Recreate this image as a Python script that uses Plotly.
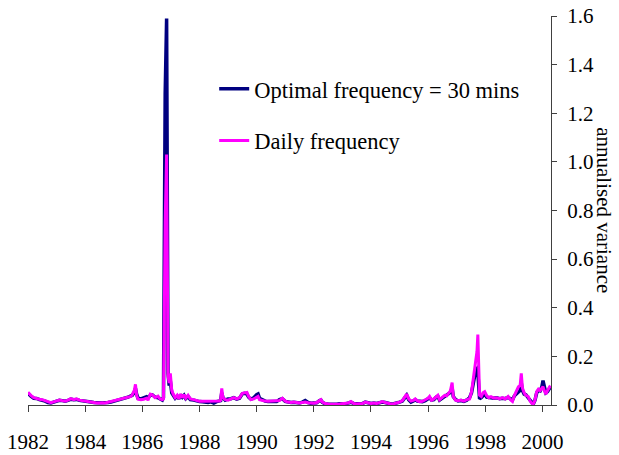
# plot.py
# Annualised variance: optimal (30 min) vs daily sampling frequency
# Uses Plotly, right-hand y axis like the original Excel chart

import plotly.graph_objects as go

# decimal years
years = [
    1982.00, 1982.05, 1982.10, 1982.20, 1982.30, 1982.40, 1982.50, 1982.60, 1982.70, 1982.80, 1982.90,
    1983.00, 1983.10, 1983.20, 1983.30, 1983.40, 1983.50, 1983.60, 1983.70, 1983.80, 1983.90,
    1984.00, 1984.10, 1984.20, 1984.30, 1984.40, 1984.50, 1984.60, 1984.70, 1984.80, 1984.90,
    1985.00, 1985.10, 1985.20, 1985.30, 1985.40, 1985.50, 1985.60, 1985.65, 1985.72, 1985.76,
    1985.80, 1985.85, 1985.95, 1986.05, 1986.15, 1986.20, 1986.28, 1986.35, 1986.45, 1986.55,
    1986.62, 1986.70, 1986.74, 1986.80, 1986.85, 1986.90, 1986.94, 1986.98, 1987.03, 1987.08,
    1987.15, 1987.22, 1987.28, 1987.34, 1987.40, 1987.46, 1987.52, 1987.60, 1987.68, 1987.80,
    1987.90, 1988.00, 1988.10, 1988.20, 1988.30, 1988.40, 1988.50, 1988.60, 1988.70, 1988.74,
    1988.78, 1988.82, 1988.90, 1989.00, 1989.10, 1989.20, 1989.30, 1989.40, 1989.50, 1989.58,
    1989.66, 1989.72, 1989.80, 1989.90, 1990.00, 1990.05, 1990.10, 1990.20, 1990.30, 1990.40,
    1990.50, 1990.60, 1990.70, 1990.80, 1990.90, 1991.00, 1991.10, 1991.20, 1991.30, 1991.40,
    1991.50, 1991.60, 1991.70, 1991.80, 1991.90, 1992.00, 1992.10, 1992.20, 1992.25, 1992.30,
    1992.40, 1992.50, 1992.60, 1992.70, 1992.80, 1992.90, 1993.00, 1993.10, 1993.20, 1993.30,
    1993.40, 1993.50, 1993.60, 1993.70, 1993.80, 1993.90, 1994.00, 1994.10, 1994.20, 1994.30,
    1994.40, 1994.50, 1994.60, 1994.70, 1994.80, 1994.90, 1995.00, 1995.10, 1995.18, 1995.25,
    1995.32, 1995.40, 1995.50, 1995.55, 1995.62, 1995.70, 1995.80, 1995.90, 1996.00, 1996.05,
    1996.12, 1996.20, 1996.28, 1996.34, 1996.40, 1996.50, 1996.58, 1996.65, 1996.72, 1996.78,
    1996.84, 1996.88, 1996.96, 1997.05, 1997.15, 1997.25, 1997.35, 1997.45, 1997.52, 1997.58,
    1997.63, 1997.67, 1997.71, 1997.74, 1997.77, 1997.80, 1997.86, 1997.92, 1997.98, 1998.05,
    1998.12, 1998.20, 1998.30, 1998.40, 1998.50, 1998.60, 1998.70, 1998.80, 1998.88, 1998.95,
    1999.02, 1999.10, 1999.16, 1999.22, 1999.26, 1999.30, 1999.36, 1999.42, 1999.50, 1999.56,
    1999.62, 1999.68, 1999.74, 1999.80, 1999.86, 1999.92, 1999.98, 2000.02, 2000.06, 2000.12,
    2000.18, 2000.24, 2000.28,
]

# optimal frequency (30 mins)
optimal_var = [
    0.048, 0.040, 0.036, 0.028, 0.027, 0.022, 0.020, 0.016, 0.010, 0.008, 0.012,
    0.017, 0.019, 0.018, 0.016, 0.019, 0.024, 0.022, 0.023, 0.019, 0.018,
    0.017, 0.015, 0.012, 0.010, 0.008, 0.009, 0.009, 0.008, 0.010, 0.012,
    0.015, 0.018, 0.020, 0.025, 0.027, 0.032, 0.038, 0.040, 0.052, 0.068,
    0.045, 0.028, 0.025, 0.030, 0.034, 0.030, 0.040, 0.042, 0.032, 0.030,
    0.024, 0.020, 0.030, 1.280, 1.590, 0.130, 0.080, 0.100, 0.050, 0.040,
    0.028, 0.036, 0.025, 0.042, 0.032, 0.040, 0.026, 0.035, 0.022, 0.020,
    0.016, 0.014, 0.013, 0.012, 0.010, 0.013, 0.008, 0.014, 0.015, 0.018,
    0.050, 0.030, 0.020, 0.025, 0.026, 0.030, 0.024, 0.028, 0.046, 0.048,
    0.045, 0.032, 0.024, 0.030, 0.042, 0.045, 0.028, 0.020, 0.016, 0.014,
    0.015, 0.013, 0.014, 0.022, 0.026, 0.015, 0.011, 0.010, 0.011, 0.009,
    0.008, 0.012, 0.018, 0.010, 0.007, 0.008, 0.009, 0.018, 0.020, 0.011,
    0.005, 0.004, 0.003, 0.004, 0.003, 0.005, 0.005, 0.004, 0.008, 0.012,
    0.006, 0.004, 0.005, 0.006, 0.012, 0.009, 0.006, 0.008, 0.006, 0.009,
    0.012, 0.010, 0.006, 0.004, 0.005, 0.007, 0.012, 0.016, 0.028, 0.040,
    0.022, 0.012, 0.018, 0.022, 0.016, 0.014, 0.014, 0.018, 0.026, 0.030,
    0.020, 0.022, 0.032, 0.036, 0.020, 0.028, 0.036, 0.040, 0.045, 0.052,
    0.070, 0.035, 0.022, 0.017, 0.018, 0.015, 0.020, 0.030, 0.050, 0.095,
    0.125, 0.145, 0.150, 0.140, 0.080, 0.025, 0.030, 0.040, 0.045, 0.032,
    0.030, 0.030, 0.028, 0.030, 0.026, 0.028, 0.026, 0.032, 0.024, 0.020,
    0.038, 0.048, 0.055, 0.060, 0.090, 0.060, 0.045, 0.042, 0.030, 0.020,
    0.008, 0.004, 0.020, 0.050, 0.060, 0.058, 0.075, 0.100, 0.080, 0.050,
    0.055, 0.070, 0.075,
]

# daily frequency
daily_var = [
    0.052, 0.045, 0.040, 0.030, 0.026, 0.024, 0.022, 0.018, 0.012, 0.010, 0.013,
    0.018, 0.020, 0.018, 0.016, 0.020, 0.026, 0.022, 0.025, 0.020, 0.018,
    0.019, 0.016, 0.012, 0.010, 0.008, 0.010, 0.009, 0.008, 0.011, 0.014,
    0.016, 0.018, 0.022, 0.024, 0.026, 0.030, 0.035, 0.042, 0.060, 0.085,
    0.040, 0.024, 0.022, 0.024, 0.028, 0.020, 0.045, 0.042, 0.030, 0.036,
    0.025, 0.022, 0.025, 0.750, 1.030, 0.120, 0.090, 0.130, 0.060, 0.045,
    0.030, 0.040, 0.025, 0.045, 0.030, 0.042, 0.028, 0.040, 0.025, 0.022,
    0.018, 0.015, 0.015, 0.015, 0.015, 0.015, 0.015, 0.015, 0.016, 0.020,
    0.068, 0.030, 0.022, 0.020, 0.024, 0.030, 0.025, 0.030, 0.048, 0.050,
    0.052, 0.035, 0.022, 0.025, 0.030, 0.035, 0.022, 0.018, 0.016, 0.015,
    0.016, 0.014, 0.015, 0.018, 0.028, 0.016, 0.012, 0.010, 0.012, 0.010,
    0.008, 0.010, 0.012, 0.009, 0.008, 0.007, 0.010, 0.020, 0.022, 0.012,
    0.006, 0.004, 0.003, 0.004, 0.003, 0.004, 0.005, 0.004, 0.008, 0.014,
    0.006, 0.004, 0.005, 0.006, 0.012, 0.010, 0.006, 0.008, 0.006, 0.010,
    0.014, 0.010, 0.006, 0.004, 0.005, 0.008, 0.012, 0.018, 0.030, 0.045,
    0.025, 0.016, 0.020, 0.025, 0.018, 0.014, 0.015, 0.020, 0.028, 0.035,
    0.020, 0.025, 0.035, 0.040, 0.022, 0.030, 0.040, 0.038, 0.050, 0.058,
    0.092, 0.035, 0.020, 0.018, 0.020, 0.016, 0.022, 0.025, 0.055, 0.110,
    0.150, 0.200, 0.220, 0.290, 0.100, 0.040, 0.035, 0.050, 0.055, 0.038,
    0.030, 0.034, 0.028, 0.030, 0.025, 0.030, 0.025, 0.035, 0.022, 0.015,
    0.040, 0.060, 0.075, 0.080, 0.130, 0.070, 0.050, 0.040, 0.035, 0.018,
    0.008, 0.004, 0.020, 0.055, 0.065, 0.060, 0.070, 0.075, 0.060, 0.045,
    0.060, 0.075, 0.080,
]

year_ticks = [1982, 1984, 1986, 1988, 1990, 1992, 1994, 1996, 1998, 2000]
var_ticks = [0.0, 0.2, 0.4, 0.6, 0.8, 1.0, 1.2, 1.4, 1.6]

FONT = "Liberation Serif"

fig = go.Figure()

fig.add_trace(go.Scatter(
    x=years, y=optimal_var,
    mode='lines',
    name='Optimal frequency = 30 mins',
    line=dict(color='#000080', width=3.5),
    showlegend=True,
    legend='legend'
))

fig.add_trace(go.Scatter(
    x=years, y=daily_var,
    mode='lines',
    name='Daily frequency',
    line=dict(color='#ff00ff', width=3),
    showlegend=True,
    legend='legend2'
))

legend_style = dict(
    xanchor='left', yanchor='middle',
    bgcolor='rgba(0,0,0,0)',
    font=dict(family=FONT, size=22.5, color='black'),
    visible=True,
)

fig.update_layout(
    width=619, height=455,
    margin=dict(l=28, r=68, t=16, b=50),
    paper_bgcolor='white',
    plot_bgcolor='white',
    showlegend=True,
    font=dict(family=FONT, size=21, color='black'),
    legend=dict(x=0.356, y=0.812, **legend_style),
    legend2=dict(x=0.356, y=0.679, **legend_style),
    xaxis=dict(
        range=[1982, 2000.3],
        tickvals=year_ticks,
        ticktext=[str(y) for y in year_ticks],
        ticks='outside', ticklen=6, tickcolor='#404040',
        ticklabelstandoff=12,
        showline=True, linecolor='#404040', linewidth=1,
        showgrid=False, zeroline=False,
        automargin=False,
    ),
    yaxis=dict(
        side='right',
        range=[0, 1.6],
        tickvals=var_ticks,
        tickformat='.1f',
        tickfont=dict(size=21),
        ticks='outside', ticklen=5, tickcolor='#404040',
        ticklabelstandoff=6,
        showline=True, linecolor='#404040', linewidth=1,
        showgrid=False, zeroline=False,
        automargin=False,
    ),
    annotations=[dict(
        text='annualised variance',
        xref='paper', yref='paper',
        x=1.102, y=0.5,
        xanchor='center', yanchor='middle',
        textangle=90,
        showarrow=False,
        font=dict(family=FONT, size=21, color='black'),
    )],
)

# drop the default 8px body margin so the figure sits at the page corner
fig.write_html("out.html", config={'displayModeBar': False},
               post_script="document.body.style.margin='0';")
